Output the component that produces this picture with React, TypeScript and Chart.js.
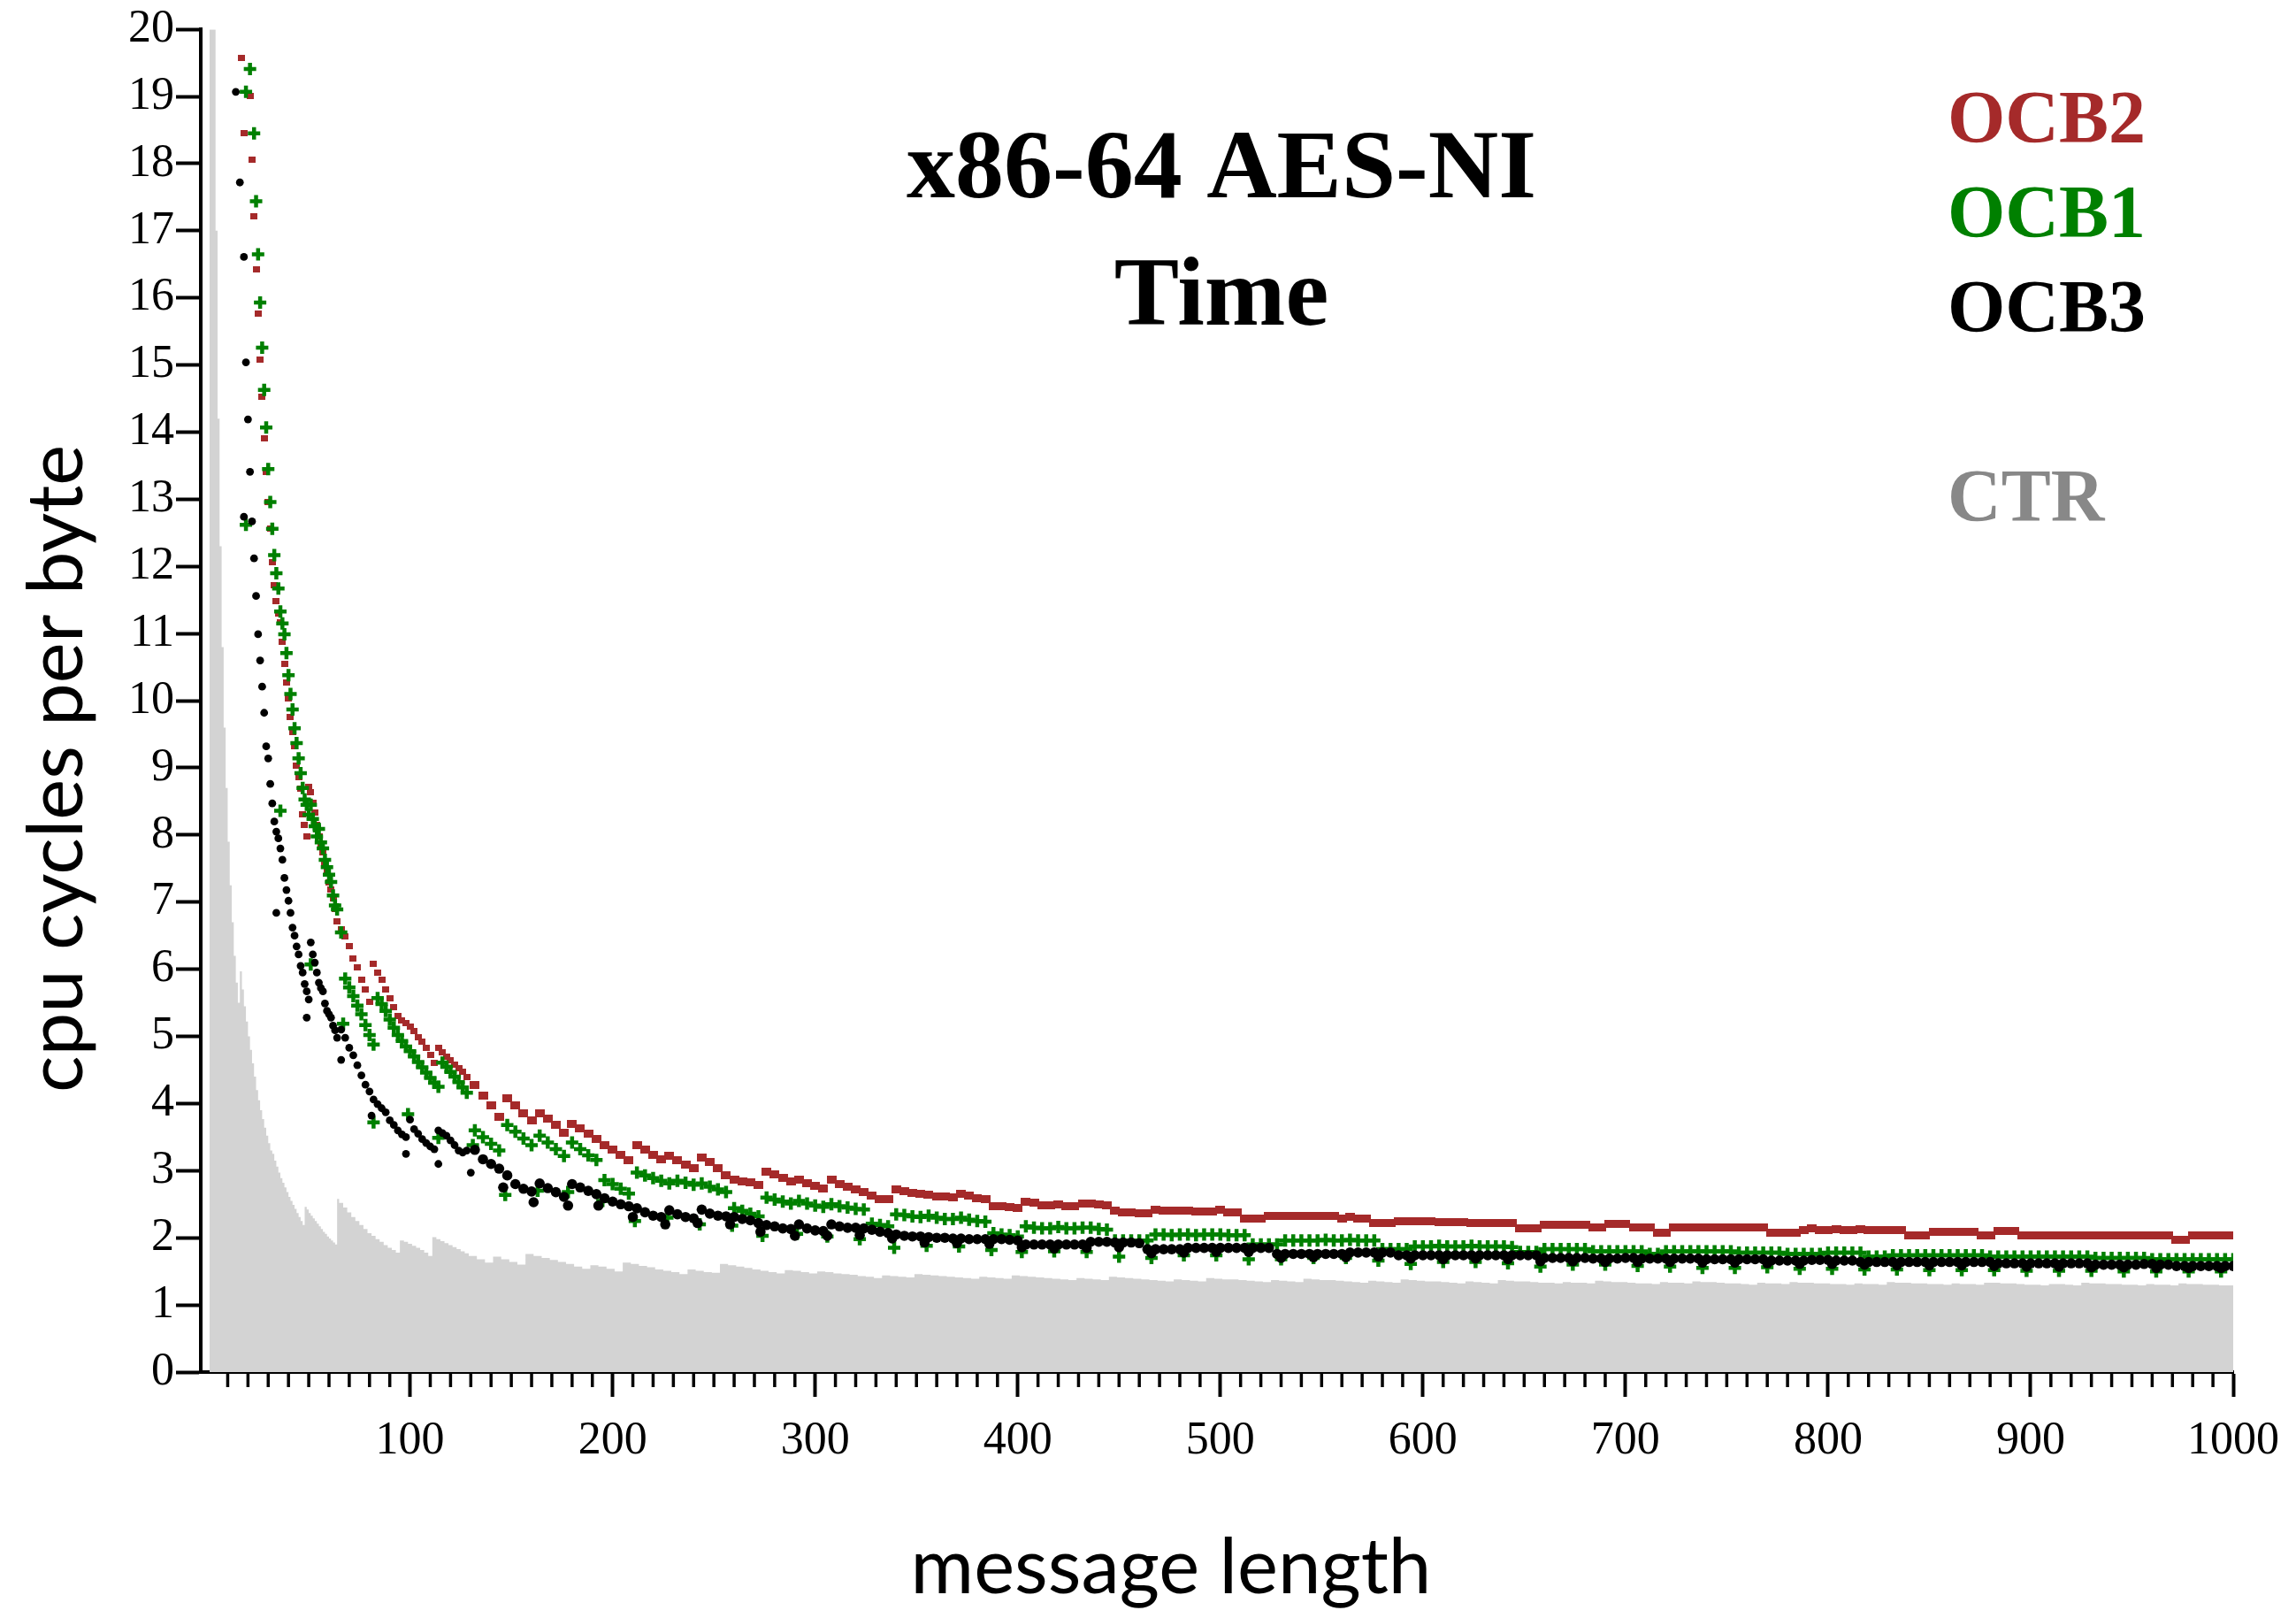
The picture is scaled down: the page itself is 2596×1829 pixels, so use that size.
import React, { useEffect, useRef } from "react";
import { Chart, registerables } from "chart.js";

Chart.register(...registerables);

const WIDTH = 2596;
const HEIGHT = 1829;

function range(start: number, end: number, step: number): number[] {
  const out: number[] = [];
  for (let v = start; v <= end; v += step) out.push(v);
  return out;
}

// ---- text ----
const titleLines = ["x86-64 AES-NI", "Time"];
const xAxisTitle = "message length";
const yAxisTitle = "cpu cycles per byte";
const legendLabels = ["OCB2", "OCB1", "OCB3", "CTR"];

// ---- axis ticks ----
const xMajorTicks = [100, 200, 300, 400, 500, 600, 700, 800, 900, 1000];
const xMinorTicks = range(10, 990, 10).filter((v) => v % 100 !== 0);

// ---- message lengths (bytes) at which the OCB series are sampled ----
const earlyLengths = range(10, 64, 1);
const midLengths = range(66, 128, 2);
const lateLengths = range(132, 1000, 4);
const ocbLengths = [...earlyLengths, ...midLengths, ...lateLengths];

// ---- OCB2 (cycles per byte) ----
const ocb2Early = [
  null, null, null, null, null, null, null, 19.57, 18.45, null,
  null, 19.01, 18.06, 17.22, 16.43, 15.76, 15.08, 14.53, 13.91, 13.41,
  12.96, 12.56, 12.06, 11.72, 11.48, 11.3, 11.17, 10.88, 10.55, 10.27,
  10.04, 9.76, 9.54, 9.32, 9.03, 8.86, 8.69, 8.31, 8.15, 7.98,
  8.72, 8.64, 8.48, 8.33, 8.15, 7.98, 7.86, 7.74, 7.59, 7.45,
  7.3, 7.19, 7.05, 6.9, 6.71,
];
const ocb2Mid = [
  6.6, 6.49, 6.34, 6.16, 6.03, 5.85, 5.7, 5.52,
  6.08, 5.95, 5.84, 5.7, 5.57, 5.44, 5.3, 5.24,
  5.2, 5.14, 5.08, 4.99, 4.92, 4.83, 4.72, 4.6,
  4.83, 4.76, 4.7, 4.65, 4.58, 4.52, 4.47, 4.4,
];
const ocb2Late = [
  4.28, 4.12, 3.97, 3.8, 4.08, 3.97, 3.85, 3.75, 3.86, 3.78,
  3.68, 3.56, 3.7, 3.63, 3.55, 3.47, 3.38, 3.31, 3.24, 3.16,
  3.38, 3.31, 3.24, 3.17, 3.22, 3.15, 3.09, 3.04, 3.2, 3.13,
  3.04, 2.93, 2.87, 2.84, 2.82, 2.79, 2.99, 2.94, 2.89, 2.84,
  2.86, 2.81, 2.77, 2.74, 2.86, 2.8, 2.76, 2.72, 2.68, 2.63,
  2.58, 2.57, 2.72, 2.69, 2.67, 2.65, 2.64, 2.62, 2.61, 2.6,
  2.66, 2.63, 2.59, 2.57, 2.47, 2.47, 2.46, 2.45, 2.53, 2.52,
  2.48, 2.48, 2.5, 2.47, 2.47, 2.51, 2.51, 2.5, 2.49, 2.4,
  2.38, 2.38, 2.37, 2.37, 2.42, 2.41, 2.41, 2.4, 2.4, 2.39,
  2.39, 2.39, 2.42, 2.38, 2.38, 2.29, 2.29, 2.29, 2.33, 2.33,
  2.33, 2.33, 2.33, 2.32, 2.32, 2.32, 2.32, 2.29, 2.31, 2.29,
  2.29, 2.22, 2.22, 2.22, 2.25, 2.25, 2.25, 2.25, 2.25, 2.24,
  2.24, 2.24, 2.24, 2.22, 2.22, 2.22, 2.22, 2.22, 2.22, 2.14,
  2.14, 2.14, 2.19, 2.19, 2.19, 2.19, 2.19, 2.19, 2.16, 2.16,
  2.21, 2.21, 2.21, 2.15, 2.15, 2.15, 2.08, 2.08, 2.16, 2.16,
  2.16, 2.16, 2.16, 2.15, 2.15, 2.15, 2.15, 2.15, 2.15, 2.15,
  2.08, 2.08, 2.08, 2.08, 2.11, 2.14, 2.11, 2.11, 2.13, 2.11,
  2.11, 2.13, 2.11, 2.11, 2.11, 2.11, 2.11, 2.03, 2.03, 2.03,
  2.09, 2.09, 2.09, 2.09, 2.09, 2.09, 2.03, 2.03, 2.1, 2.1,
  2.1, 2.03, 2.03, 2.03, 2.03, 2.03, 2.03, 2.03, 2.03, 2.03,
  2.03, 2.03, 2.03, 2.03, 2.03, 2.03, 2.03, 2.03, 2.03, 2.03,
  1.97, 1.97, 2.03, 2.03, 2.03, 2.03, 2.03, 2.03,
];

// ---- OCB1 ----
const ocb1Early = [
  null, null, null, null, null, null, null, null, null, 19.07,
  null, 19.41, null, 18.45, 17.44, 16.65, 15.93, 15.26, 14.63, 14.07,
  13.45, 12.96, 12.56, 12.17, 11.9, 11.67, 11.33, 11.15, 10.99, 10.71,
  10.38, 10.1, 9.87, 9.59, 9.37, 9.14, 8.92, 8.7, 8.53, 8.45,
  8.3, 8.45, 8.24, 8.13, 7.98, 8.09, 7.89, 7.8, 7.63, 7.52,
  7.41, 7.3, 7.1, 6.95, 6.89,
];
const ocb1Mid = [
  6.55, 5.86, 5.73, 5.6, 5.46, 5.33, 5.17, 5.02,
  4.88, 5.57, 5.48, 5.38, 5.25, 5.13, 5.02, 4.93,
  4.85, 4.78, 4.7, 4.62, 4.54, 4.46, 4.38, 4.31,
  4.25, 4.61, 4.55, 4.47, 4.4, 4.32, 4.24, 4.16,
];
const ocb1Late = [
  3.6, 3.5, 3.4, 3.3, 3.68, 3.58, 3.48, 3.38, 3.52, 3.42,
  3.32, 3.22, 3.42, 3.32, 3.23, 3.16, 2.86, 2.8, 2.73, 2.66,
  2.97, 2.93, 2.89, 2.85, 2.81, 2.85, 2.82, 2.79, 2.81, 2.76,
  2.72, 2.68, 2.44, 2.4, 2.36, 2.32, 2.6, 2.57, 2.54, 2.51,
  2.55, 2.51, 2.48, 2.46, 2.5, 2.47, 2.45, 2.43, 2.42, 2.21,
  2.19, 2.17, 2.35, 2.34, 2.32, 2.31, 2.33, 2.3, 2.28, 2.28,
  2.3, 2.27, 2.25, 2.24, 2.07, 2.05, 2.04, 2.02, 2.17, 2.15,
  2.14, 2.14, 2.16, 2.14, 2.14, 2.15, 2.15, 2.13, 2.12, 1.96,
  1.96, 1.96, 1.96, 1.96, 2.05, 2.05, 2.04, 2.05, 2.05, 2.04,
  2.05, 2.05, 2.05, 2.04, 2.04, 2.04, 1.9, 1.9, 1.9, 1.9,
  1.96, 1.96, 1.96, 1.96, 1.96, 1.97, 1.96, 1.96, 1.97, 1.96,
  1.96, 1.96, 1.83, 1.83, 1.83, 1.83, 1.87, 1.87, 1.87, 1.88,
  1.87, 1.87, 1.87, 1.88, 1.87, 1.87, 1.87, 1.87, 1.86, 1.79,
  1.79, 1.79, 1.83, 1.83, 1.83, 1.83, 1.83, 1.83, 1.8, 1.8,
  1.8, 1.8, 1.8, 1.8, 1.8, 1.76, 1.76, 1.8, 1.8, 1.8,
  1.8, 1.8, 1.8, 1.8, 1.8, 1.8, 1.78, 1.78, 1.78, 1.78,
  1.78, 1.78, 1.76, 1.76, 1.76, 1.76, 1.76, 1.78, 1.78, 1.78,
  1.78, 1.78, 1.72, 1.72, 1.72, 1.74, 1.74, 1.74, 1.74, 1.74,
  1.74, 1.74, 1.74, 1.74, 1.74, 1.74, 1.74, 1.72, 1.72, 1.72,
  1.72, 1.72, 1.72, 1.72, 1.72, 1.72, 1.72, 1.72, 1.72, 1.72,
  1.7, 1.7, 1.7, 1.7, 1.7, 1.7, 1.7, 1.68, 1.68, 1.68,
  1.68, 1.68, 1.68, 1.68, 1.68, 1.68, 1.68, 1.68,
];
const ocb1OutlierLengths = [
  19, 36, 51, 67, 82, 99, 114, 131, 147, 163, 178, 195, 211, 227, 243, 259,
  274, 291, 306, 322, 339, 355, 371, 387, 402, 418, 434, 450, 466, 482, 498, 514,
  530, 546, 562, 578, 594, 610, 626, 642, 658, 674, 690, 706, 722, 738, 754, 770,
  786, 802, 818, 834, 850, 866, 882, 898, 914, 930, 946, 962, 978, 994,
];
const ocb1OutlierValues = [
  12.62, 8.36, 6.07, 5.19, 3.72, 3.84, 3.49, 3.38, 2.64, 2.7, 2.68, 2.55, 2.25, 2.3, 2.2, 2.18,
  2.03, 2.06, 2.02, 1.98, 1.85, 1.88, 1.87, 1.82, 1.79, 1.8, 1.79, 1.72, 1.7, 1.74, 1.74, 1.68,
  1.68, 1.7, 1.7, 1.66, 1.61, 1.64, 1.64, 1.62, 1.57, 1.6, 1.6, 1.58, 1.57, 1.55, 1.55, 1.56,
  1.54, 1.54, 1.53, 1.53, 1.52, 1.52, 1.52, 1.51, 1.51, 1.51, 1.5, 1.5, 1.5, 1.5,
];

// ---- OCB3 ----
const ocb3Early = [
  null, null, null, null, 19.07, null, 17.72, null, 16.61, 15.04,
  14.19, 13.41, 12.67, 12.12, 11.56, 10.99, 10.6, 10.21, 9.82, 9.32,
  9.14, 8.76, 8.47, 8.2, 8.05, 7.95, 7.8, 7.63, 7.36, 7.18,
  7.02, 6.84, 6.62, 6.5, 6.34, 6.22, 6.05, 5.95, 5.78, 5.67,
  5.55, 6.4, 6.22, 6.1, 5.95, 5.8, 5.72, 5.67, 5.49, 5.38,
  5.33, 5.28, 5.16, 5.09, 4.98,
];
const ocb3Mid = [
  5.1, 4.98, 4.83, 4.72, 4.57, 4.42, 4.28, 4.18,
  4.06, 3.99, 3.93, 3.87, 3.75, 3.68, 3.6, 3.54,
  3.5, 3.76, 3.62, 3.55, 3.47, 3.41, 3.36, 3.32,
  3.6, 3.56, 3.52, 3.45, 3.38, 3.3, 3.27, 3.3,
];
const ocb3Late = [
  3.31, 3.17, 3.1, 3.03, 2.93, 2.8, 2.73, 2.69, 2.81, 2.74,
  2.68, 2.61, 2.8, 2.75, 2.7, 2.65, 2.59, 2.54, 2.5, 2.47,
  2.44, 2.38, 2.33, 2.31, 2.41, 2.35, 2.31, 2.29, 2.42, 2.36,
  2.33, 2.32, 2.31, 2.28, 2.26, 2.22, 2.19, 2.17, 2.14, 2.13,
  2.2, 2.14, 2.11, 2.1, 2.2, 2.17, 2.15, 2.15, 2.14, 2.12,
  2.09, 2.07, 2.05, 2.03, 2.02, 2.02, 2.01, 2.0, 2.0, 1.99,
  1.99, 1.98, 1.98, 1.98, 1.98, 1.98, 1.97, 1.96, 1.9, 1.9,
  1.9, 1.9, 1.9, 1.9, 1.9, 1.9, 1.94, 1.94, 1.94, 1.93,
  1.93, 1.93, 1.92, 1.83, 1.83, 1.83, 1.83, 1.83, 1.85, 1.85,
  1.85, 1.85, 1.85, 1.85, 1.85, 1.85, 1.85, 1.85, 1.85, 1.76,
  1.76, 1.76, 1.76, 1.76, 1.76, 1.76, 1.76, 1.76, 1.78, 1.78,
  1.78, 1.78, 1.78, 1.78, 1.74, 1.74, 1.74, 1.74, 1.74, 1.74,
  1.74, 1.74, 1.74, 1.74, 1.74, 1.74, 1.74, 1.74, 1.74, 1.74,
  1.74, 1.74, 1.7, 1.7, 1.7, 1.7, 1.7, 1.7, 1.69, 1.69,
  1.69, 1.69, 1.7, 1.7, 1.69, 1.69, 1.69, 1.69, 1.69, 1.69,
  1.69, 1.69, 1.68, 1.68, 1.68, 1.68, 1.68, 1.68, 1.68, 1.68,
  1.66, 1.66, 1.66, 1.66, 1.66, 1.67, 1.67, 1.67, 1.66, 1.66,
  1.66, 1.64, 1.64, 1.64, 1.64, 1.64, 1.64, 1.64, 1.64, 1.64,
  1.64, 1.64, 1.64, 1.64, 1.64, 1.64, 1.64, 1.64, 1.62, 1.62,
  1.62, 1.62, 1.62, 1.62, 1.62, 1.62, 1.62, 1.62, 1.62, 1.62,
  1.6, 1.6, 1.6, 1.6, 1.6, 1.6, 1.61, 1.61, 1.6, 1.6,
  1.58, 1.58, 1.58, 1.58, 1.58, 1.58, 1.58, 1.58,
];
const ocb3OutlierLengths = [
  18, 34, 49, 66, 81, 98, 114, 130, 146, 161, 178, 193, 210, 226, 242, 258,
  273, 290, 306, 322, 338, 354, 370, 386, 402, 418, 434, 450, 466, 482, 498, 514,
  530, 546, 562, 578, 594, 610, 626, 642, 658, 674, 690, 706, 722, 738, 754, 770,
  786, 802, 818, 834, 850, 866, 882, 898, 914, 930, 946, 962, 978, 994,
];
const ocb3OutlierValues = [
  12.74, 6.84, 5.28, 4.65, 3.82, 3.25, 3.1, 2.97, 2.75, 2.53, 2.48, 2.48, 2.31, 2.2, 2.22, 2.2,
  2.09, 2.03, 2.03, 2.04, 1.99, 1.93, 1.92, 1.91, 1.86, 1.84, 1.85, 1.86, 1.77, 1.78, 1.79, 1.79,
  1.7, 1.71, 1.71, 1.72, 1.69, 1.68, 1.69, 1.68, 1.65, 1.65, 1.64, 1.64, 1.64, 1.63, 1.63, 1.62,
  1.61, 1.61, 1.6, 1.59, 1.59, 1.59, 1.58, 1.57, 1.57, 1.56, 1.56, 1.55, 1.55, 1.55,
];

// ---- CTR ----
const ctrLengths = [...range(1, 64, 1), ...range(65, 127, 2), ...range(129, 997, 4), 1000];
const ctrEarly = [
  20, 20, 20, 20, 17.0, 14.2, 12.3, 10.8, 9.6, 8.7,
  7.9, 7.25, 6.7, 6.2, 5.8, 5.5, 5.97, 5.7, 5.45, 5.22,
  5.0, 4.8, 4.6, 4.4, 4.2, 4.05, 3.9, 3.77, 3.64, 3.52,
  3.41, 3.3, 3.25, 3.15, 3.06, 2.97, 2.89, 2.82, 2.75, 2.68,
  2.61, 2.55, 2.49, 2.43, 2.37, 2.31, 2.25, 2.19, 2.46, 2.42,
  2.37, 2.33, 2.29, 2.25, 2.21, 2.17, 2.13, 2.09, 2.06, 2.02,
  1.99, 1.96, 1.93, 1.9,
];
const ctrMid = [
  2.58, 2.52, 2.45, 2.38, 2.31, 2.25, 2.19, 2.13,
  2.07, 2.03, 1.98, 1.94, 1.89, 1.85, 1.82, 1.78,
  1.96, 1.94, 1.91, 1.88, 1.85, 1.82, 1.78, 1.73,
  2.01, 1.98, 1.95, 1.92, 1.89, 1.86, 1.83, 1.8,
];
const ctrLate = [
  1.77, 1.73, 1.68, 1.63, 1.72, 1.68, 1.64, 1.6, 1.76, 1.73,
  1.7, 1.67, 1.64, 1.61, 1.57, 1.54, 1.59, 1.57, 1.54, 1.5,
  1.63, 1.61, 1.58, 1.56, 1.53, 1.51, 1.49, 1.46, 1.53, 1.51,
  1.49, 1.48, 1.61, 1.59, 1.57, 1.55, 1.53, 1.51, 1.49, 1.47,
  1.52, 1.51, 1.49, 1.47, 1.5, 1.49, 1.47, 1.46, 1.45, 1.43,
  1.42, 1.4, 1.44, 1.43, 1.42, 1.41, 1.46, 1.45, 1.44, 1.43,
  1.42, 1.41, 1.4, 1.39, 1.42, 1.41, 1.4, 1.39, 1.44, 1.43,
  1.42, 1.41, 1.4, 1.39, 1.38, 1.37, 1.4, 1.39, 1.38, 1.37,
  1.42, 1.41, 1.4, 1.39, 1.38, 1.37, 1.36, 1.35, 1.38, 1.37,
  1.36, 1.35, 1.4, 1.39, 1.38, 1.38, 1.37, 1.36, 1.35, 1.34,
  1.37, 1.36, 1.35, 1.34, 1.39, 1.38, 1.37, 1.37, 1.36, 1.35,
  1.34, 1.33, 1.36, 1.35, 1.34, 1.33, 1.38, 1.37, 1.36, 1.35,
  1.35, 1.34, 1.33, 1.32, 1.35, 1.34, 1.33, 1.32, 1.37, 1.36,
  1.35, 1.35, 1.34, 1.33, 1.33, 1.32, 1.34, 1.33, 1.33, 1.32,
  1.36, 1.35, 1.34, 1.34, 1.33, 1.32, 1.32, 1.31, 1.34, 1.33,
  1.33, 1.32, 1.35, 1.34, 1.34, 1.33, 1.32, 1.32, 1.31, 1.3,
  1.33, 1.32, 1.32, 1.31, 1.34, 1.33, 1.33, 1.32, 1.32, 1.31,
  1.31, 1.3, 1.32, 1.31, 1.31, 1.3, 1.34, 1.33, 1.33, 1.32,
  1.32, 1.31, 1.31, 1.3, 1.32, 1.31, 1.31, 1.3, 1.33, 1.33,
  1.32, 1.32, 1.31, 1.3, 1.3, 1.29, 1.31, 1.31, 1.3, 1.29,
  1.33, 1.32, 1.32, 1.31, 1.31, 1.3, 1.3, 1.29, 1.31, 1.3,
  1.3, 1.29, 1.32, 1.31, 1.31, 1.3, 1.3, 1.29, 1.29,
];

// ---- colours ----
const OCB2_COLOR = "rgb(165,42,42)";
const OCB1_COLOR = "rgb(0,128,0)";
const OCB3_COLOR = "rgb(0,0,0)";
const CTR_FILL = "rgb(211,211,211)";
const CTR_TEXT = "rgb(136,136,136)";

function toPoints(xs: number[], ys: (number | null)[]) {
  const pts: { x: number; y: number }[] = [];
  xs.forEach((x, i) => {
    const y = ys[i];
    if (y !== null && y !== undefined) pts.push({ x, y });
  });
  return pts;
}

const minorTickPlugin = {
  id: "minorTicks",
  afterDraw(chart: any) {
    const { ctx, chartArea, scales } = chart;
    const xs = scales.x;
    ctx.save();
    ctx.strokeStyle = "#000";
    ctx.lineWidth = 3.5;
    ctx.beginPath();
    for (const v of xMinorTicks) {
      const px = xs.getPixelForValue(v);
      ctx.moveTo(px, chartArea.bottom);
      ctx.lineTo(px, chartArea.bottom + 17);
    }
    ctx.stroke();
    ctx.restore();
  },
};

const textPlugin = {
  id: "texts",
  afterDraw(chart: any) {
    const { ctx } = chart;
    ctx.save();
    ctx.textBaseline = "alphabetic";
    // title
    ctx.fillStyle = "#000";
    ctx.textAlign = "center";
    ctx.font = 'bold 110px "Liberation Serif"';
    ctx.fillText(titleLines[0], 1381, 223);
    ctx.fillText(titleLines[1], 1381, 367);
    // legend
    ctx.textAlign = "left";
    ctx.font = 'bold 84px "Liberation Serif"';
    const colors = [OCB2_COLOR, OCB1_COLOR, OCB3_COLOR, CTR_TEXT];
    const baselines = [161, 268, 375, 589];
    legendLabels.forEach((t, i) => {
      ctx.fillStyle = colors[i];
      ctx.fillText(t, 2202, baselines[i]);
    });
    // axis titles
    ctx.fillStyle = "#000";
    ctx.font = '87px "Lato"';
    ctx.textAlign = "center";
    ctx.fillText(xAxisTitle, 1324, 1801);
    ctx.translate(93, 869);
    ctx.rotate(-Math.PI / 2);
    ctx.fillText(yAxisTitle, 0, 0);
    ctx.restore();
  },
};

export default function App() {
  const ref = useRef<HTMLCanvasElement | null>(null);

  useEffect(() => {
    const canvas = ref.current;
    if (!canvas) return;

    const redWide = document.createElement("canvas");
    redWide.width = 11;
    redWide.height = 9;
    const rw = redWide.getContext("2d")!;
    rw.fillStyle = OCB2_COLOR;
    rw.fillRect(0, 0, 11, 9);

    const redSmall = document.createElement("canvas");
    redSmall.width = 8;
    redSmall.height = 7;
    const rs = redSmall.getContext("2d")!;
    rs.fillStyle = OCB2_COLOR;
    rs.fillRect(0, 0, 8, 7);

    const ocb2Points = toPoints(ocbLengths, [...ocb2Early, ...ocb2Mid, ...ocb2Late]);
    const ocb1Points = toPoints(ocbLengths, [...ocb1Early, ...ocb1Mid, ...ocb1Late]);
    const ocb3Points = toPoints(ocbLengths, [...ocb3Early, ...ocb3Mid, ...ocb3Late]);
    const ocb1Outliers = toPoints(ocb1OutlierLengths, ocb1OutlierValues);
    const ocb3Outliers = toPoints(ocb3OutlierLengths, ocb3OutlierValues);
    const ctrPoints = toPoints(ctrLengths, [...ctrEarly, ...ctrMid, ...ctrLate]);

    const blackStyle = {
      pointStyle: "circle",
      pointRadius: (c: any) => (c.raw && c.raw.x > 130 ? 5.8 : 4.4),
      pointBackgroundColor: OCB3_COLOR,
      pointBorderColor: OCB3_COLOR,
      pointBorderWidth: 0,
      showLine: false,
      order: 1,
    };
    const greenStyle = {
      pointStyle: "cross",
      pointRadius: 7,
      pointBorderColor: OCB1_COLOR,
      pointBackgroundColor: OCB1_COLOR,
      pointBorderWidth: 4.5,
      showLine: false,
      order: 2,
    };

    const chart = new Chart(canvas, {
      type: "scatter",
      data: {
        datasets: [
          { label: "OCB3", data: ocb3Points, ...blackStyle } as any,
          { label: "OCB3 outliers", data: ocb3Outliers, ...blackStyle } as any,
          { label: "OCB1", data: ocb1Points, ...greenStyle } as any,
          { label: "OCB1 outliers", data: ocb1Outliers, ...greenStyle } as any,
          {
            label: "OCB2",
            data: ocb2Points,
            pointStyle: (c: any) => (c.raw && c.raw.x > 130 ? redWide : redSmall),
            pointRadius: 5,
            pointBorderWidth: 0,
            showLine: false,
            order: 3,
          } as any,
          {
            type: "line",
            label: "CTR",
            data: ctrPoints,
            stepped: "after",
            fill: "origin",
            backgroundColor: CTR_FILL,
            borderColor: "rgba(0,0,0,0)",
            borderWidth: 0,
            pointRadius: 0,
            order: 4,
          } as any,
        ],
      },
      options: {
        responsive: false,
        maintainAspectRatio: false,
        devicePixelRatio: 1,
        animation: false,
        events: [],
        layout: { padding: { left: 0, top: 28, right: 69, bottom: 0 } },
        plugins: {
          legend: { display: false },
          tooltip: { enabled: false },
          title: { display: false },
        },
        scales: {
          x: {
            type: "linear",
            position: "bottom",
            min: -3.3,
            max: 1000,
            afterFit: (s: any) => {
              s.height = 278;
            },
            afterBuildTicks: (s: any) => {
              s.ticks = xMajorTicks.map((v) => ({ value: v }));
            },
            border: { display: true, color: "#000", width: 4 },
            grid: {
              display: true,
              drawOnChartArea: false,
              drawTicks: true,
              tickLength: 28,
              tickWidth: 4,
              tickColor: "#000",
            },
            ticks: {
              autoSkip: false,
              maxRotation: 0,
              minRotation: 0,
              padding: 19,
              color: "#000",
              font: { family: "Liberation Serif", size: 52 },
              callback: (v: any) => String(v),
            },
          },
          y: {
            type: "linear",
            min: 0,
            max: 20,
            afterFit: (s: any) => {
              s.width = 227;
            },
            border: { display: true, color: "#000", width: 4 },
            grid: {
              display: true,
              drawOnChartArea: false,
              drawTicks: true,
              tickLength: 28,
              tickWidth: 4,
              tickColor: "#000",
            },
            ticks: {
              stepSize: 1,
              autoSkip: false,
              padding: 2,
              color: "#000",
              font: { family: "Liberation Serif", size: 52 },
            },
          },
        },
      } as any,
      plugins: [minorTickPlugin, textPlugin],
    });

    return () => {
      chart.destroy();
    };
  }, []);

  return (
    <div
      style={{
        position: "fixed",
        left: 0,
        top: 0,
        width: WIDTH,
        height: HEIGHT,
        background: "#fff",
      }}
    >
      <canvas
        ref={ref}
        width={WIDTH}
        height={HEIGHT}
        style={{ width: WIDTH, height: HEIGHT, display: "block" }}
      />
    </div>
  );
}
